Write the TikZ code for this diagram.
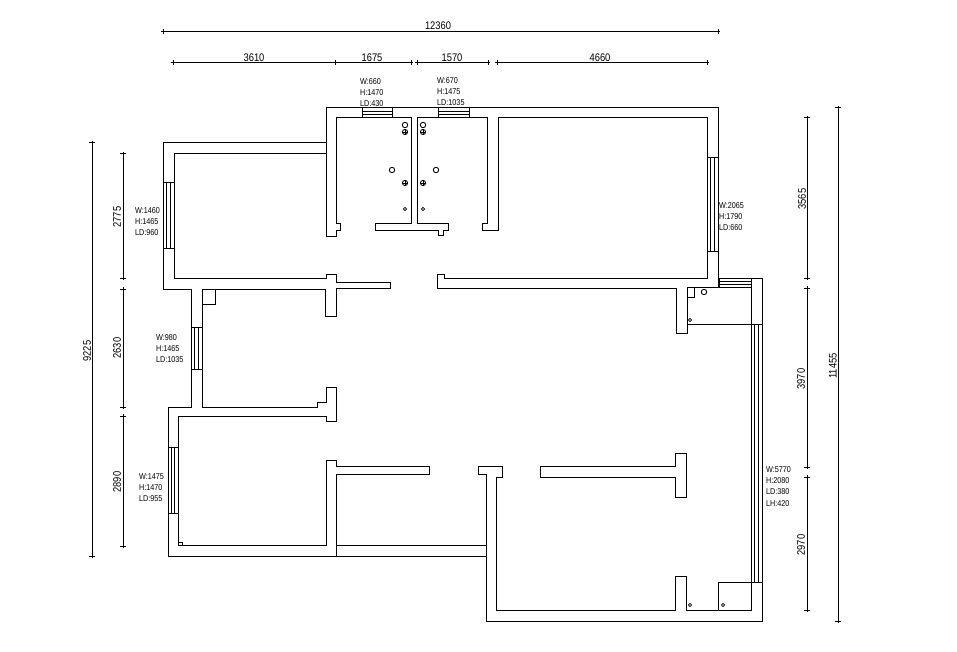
\documentclass[tikz,border=0pt]{standalone}
\usepackage{fontspec}
\newfontfamily\cadfont[FakeStretch=0.85]{Liberation Sans}
\tikzset{
    wall/.style={line width=1pt, line join=miter},
    dimline/.style={line width=1pt, shorten <=-2pt, shorten >=-2pt},
    dimtext/.style={font=\cadfont\fontsize{11}{12}\selectfont, inner sep=0pt},
    wintext/.style={font=\cadfont\fontsize{8.5}{11.4}\selectfont, inner sep=0pt, align=left, anchor=north west},
    tickh/.pic={
        \draw[line width=1pt] (0,-2.5) -- (0,2.5);
    },
    tickv/.pic={
        \draw[line width=1pt] (-3,0) -- (3,0);
    },
    % Socket with cross
    socket/.pic={
        \draw[line width=0.9pt] (0,0) circle (2.6);
        \draw[line width=0.9pt] (-2.6,0) -- (2.6,0) (0,-2.6) -- (0,2.6);
    },
}
\begin{document}
\begin{tikzpicture}[x=1pt,y=-1pt]
    \useasboundingbox (0,0) rectangle (957,652);

    % Outer walls
    \draw[wall] (718,287) -- (718,108) -- (326,108) -- (326,143) -- (163,143) -- (163,289) -- (191,289) -- (191,407) -- (168,407) -- (168,556) -- (486,556);
    \draw[wall] (478,474) -- (478,466) -- (502,466) -- (502,477) -- (496,477) -- (496,610) -- (675,610) -- (675,576) -- (686,576) -- (686,610) -- (751,610) -- (751,278);
    \draw[wall] (478,474) -- (486,474) -- (486,621) -- (762,621) -- (762,278) -- (718,278);

    % Upper rooms
    \draw[wall] (326,143) -- (326,236) -- (336,236) -- (336,230) -- (340,230) -- (340,224) -- (336,224) -- (336,118) -- (411,118) -- (411,224) -- (375,224) -- (375,230) -- (438,230) -- (438,235) -- (443,235) -- (443,230) -- (448,230) -- (448,224) -- (417,224) -- (417,118) -- (487,118) -- (487,224) -- (482,224) -- (482,230) -- (498,230) -- (498,118) -- (707,118) -- (707,278) -- (444,278) -- (444,274) -- (437,274) -- (437,288) -- (676,288) -- (676,333) -- (687,333) -- (687,287) -- (751,287);

    % Left rooms
    \draw[wall] (326,154) -- (174,154) -- (174,278) -- (326,278) -- (326,274) -- (336,274) -- (336,282) -- (390,282) -- (390,288) -- (336,288) -- (336,316) -- (325,316) -- (325,289) -- (202,289) -- (202,407) -- (317,407) -- (317,402) -- (326,402) -- (326,387) -- (336,387) -- (336,421) -- (326,421) -- (326,416) -- (178,416) -- (178,545) -- (326,545) -- (326,460) -- (336,460) -- (336,466) -- (429,466) -- (429,474) -- (336,474) -- (336,556);
    \draw[wall] (336,545) -- (486,545);

    % Partition on the right
    \draw[wall] (540,466) -- (675,466) -- (675,453) -- (686,453) -- (686,497) -- (675,497) -- (675,477) -- (540,477) -- cycle;

    % Small boxes and balcony lines
    \draw[wall] (202,289) rectangle (215,304);
    \draw[wall] (178,542) rectangle (182,545);
    \draw[wall] (687,287) rectangle (694,297);
    \draw[wall] (687,324) -- (762,324);
    \draw[wall] (718,610) -- (718,582) -- (762,582);

    % Windows in horizontal walls
    \foreach \xa/\xb/\ya/\yb in {362/392/108/118, 438/469/108/118, 719/751/278/287}{
        \draw[wall] (\xa,\ya) rectangle (\xb,\yb);
        \draw[wall] (\xa,{\ya+(\yb-\ya)/3}) -- (\xb,{\ya+(\yb-\ya)/3});
        \draw[wall] (\xa,{\ya+2*(\yb-\ya)/3}) -- (\xb,{\ya+2*(\yb-\ya)/3});
    }
    % Windows in vertical walls
    \foreach \xa/\xb/\ya/\yb in {163/174/183/248, 191/202/327/369, 168/178/447/513, 707/718/158/251, 751/762/324/582}{
        \draw[wall] (\xa,\ya) rectangle (\xb,\yb);
        \draw[wall] ({\xa+(\xb-\xa)/3},\ya) -- ({\xa+(\xb-\xa)/3},\yb);
        \draw[wall] ({\xa+2*(\xb-\xa)/3},\ya) -- ({\xa+2*(\xb-\xa)/3},\yb);
    }

    % Fixtures
    \foreach \x/\y in {405/125, 423/125, 392/170, 436/170, 704/292}{
        \draw[line width=0.9pt] (\x,\y) circle (2.7);
    }
    \foreach \x/\y in {405/132, 423/132, 405/183, 423/183}{
        \pic at (\x,\y) {socket};
    }
    \foreach \x/\y in {405/209, 423/209, 690/320, 690/605, 723/605}{
        \draw[line width=0.6pt] (\x,\y) circle (1.6);
    }

    % Horizontal dimensions
    \foreach \xa/\xb/\yy/\tx/\ty/\txt in {163/718/32/438/26/12360, 173/335/63/254/58/3610, 335/411/63/372/58/1675, 417/488/63/452/58/1570, 497/707/63/600/58/4660}{
        \coordinate (dl\txt) at (\xa,\yy);
        \coordinate (dr\txt) at (\xb,\yy);
        \draw[dimline] (dl\txt) -- (dr\txt);
        \pic at (dl\txt) {tickh};
        \pic at (dr\txt) {tickh};
        \node[dimtext] (dim\txt) at (\tx,\ty) {\txt};
    }
    % Vertical dimensions
    \foreach \xx/\ya/\yb/\tx/\ty/\txt in {92/143/556/87/351/9225, 123/154/278/117/217/2775, 123/289/407/117/348/2630, 123/416/546/117/482/2890, 807/118/278/802/199/3565, 807/288/467/801/379/3970, 807/477/610/801/545/2970, 838/108/621/833/366/11455}{
        \coordinate (dt\txt) at (\xx,\ya);
        \coordinate (db\txt) at (\xx,\yb);
        \draw[dimline] (dt\txt) -- (db\txt);
        \pic at (dt\txt) {tickv};
        \pic at (db\txt) {tickv};
        \node[dimtext, rotate=90] (dim\txt) at (\tx,\ty) {\txt};
    }

    % Window data
    \node[wintext] (wina) at (360,78) {W:660\\H:1470\\LD:430};
    \node[wintext] (winb) at (437,77) {W:670\\H:1475\\LD:1035};
    \node[wintext] (winc) at (135,207) {W:1460\\H:1465\\LD:960};
    \node[wintext] (wind) at (156,334) {W:980\\H:1465\\LD:1035};
    \node[wintext] (wine) at (139,473) {W:1475\\H:1470\\LD:955};
    \node[wintext] (winf) at (719,202) {W:2065\\H:1790\\LD:660};
    \node[wintext] (wing) at (766,466) {W:5770\\H:2080\\LD:380\\LH:420};
\end{tikzpicture}
\end{document}
